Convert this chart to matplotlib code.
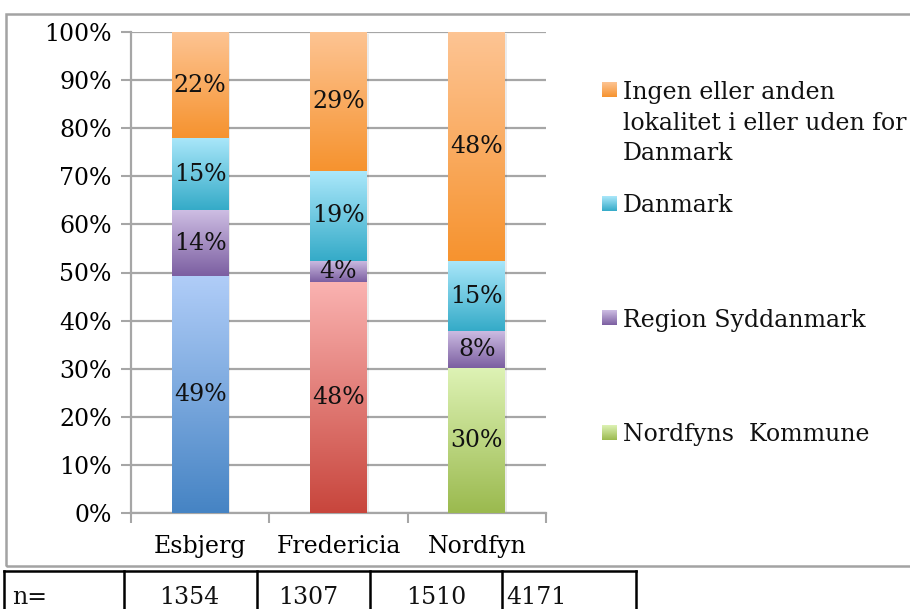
import numpy as np
import matplotlib
matplotlib.use("Agg")
import matplotlib.pyplot as plt
from matplotlib.patches import Rectangle
from matplotlib.colors import to_rgb
from matplotlib.lines import Line2D

# ---- data ----
categories = ["Esbjerg", "Fredericia", "Nordfyn"]
series_names = ["Nordfyns  Kommune", "Region Syddanmark", "Danmark",
                "Ingen eller anden\nlokalitet i eller uden for\nDanmark"]
local_vals = [49.3, 48.0, 30.1]       # own municipality (bottom segment)
region_vals = [13.6, 4.4, 7.7]
danmark_vals = [15.0, 18.7, 14.6]
other_vals = [22.1, 28.9, 47.6]
yticks = [0, 10, 20, 30, 40, 50, 60, 70, 80, 90, 100]
table_cells = ["n=", "1354", "1307", "1510", "4171"]

# gradient colours (top, bottom)
local_grads = [("#b0cdf8", "#4684c4"), ("#fab2b0", "#c8463d"), ("#ddf2b4", "#9bba4f")]
region_grad = ("#cdbde3", "#7c5fa1")
danmark_grad = ("#aae7fa", "#35abc8")
other_grad = ("#fdc493", "#f6932f")

plt.rcParams['font.family'] = ['DejaVu Serif']
FS = 17

fig = plt.figure(figsize=(9.10, 6.09), dpi=100)
W, H = 910, 609

def fx(px):
    return px / W

def fy(py):
    return 1 - py / H

def grad_img(top, bottom):
    t = np.linspace(0, 1, 64)[:, None, None]
    c0 = np.array(to_rgb(bottom))[None, None, :]
    c1 = np.array(to_rgb(top))[None, None, :]
    img = c0 * (1 - t) + c1 * t
    return np.repeat(img, 2, axis=1)

# outer chart frame
fig.add_artist(Rectangle((fx(6), fy(566)), 1.2, (566 - 14) / H, transform=fig.transFigure,
                         fill=False, edgecolor="#a3a3a3", linewidth=1.8))

ax = fig.add_axes([fx(131), fy(513), fx(546) - fx(131), fy(32) - fy(513)])
ax.set_xlim(-0.5, 2.5)
ax.set_ylim(0, 100)

x = np.arange(len(categories))
width = 0.41

def grad_fill(patch, top, bottom):
    b = patch.get_bbox()
    im = ax.imshow(grad_img(top, bottom), extent=(b.x0, b.x1, b.y0, b.y1), origin="lower",
                   aspect="auto", zorder=3, interpolation="bilinear")
    im.set_clip_path(patch)

bottoms = np.zeros(3)
stack = [
    (local_vals, local_grads),
    (region_vals, [region_grad] * 3),
    (danmark_vals, [danmark_grad] * 3),
    (other_vals, [other_grad] * 3),
]
for vals, grads in stack:
    vals = np.array(vals)
    bars = ax.bar(x, vals, width, bottom=bottoms, color="none", edgecolor="none", zorder=2)
    for bar, g, v, b0, xi in zip(bars, grads, vals, bottoms, x):
        bb = bar.get_bbox()
        ax.add_patch(Rectangle((bb.x0 + 0.012, bb.y0 - 0.4), bb.width, bb.height,
                               facecolor="#000000", alpha=0.08, edgecolor="none", zorder=1.5))
        grad_fill(bar, *g)
        ax.text(xi, b0 + v / 2, f"{round(v):d}%", ha="center", va="center",
                fontsize=FS, color="#111111", zorder=5)
    bottoms = bottoms + vals

# grid / axes styling
ax.set_yticks(yticks)
ax.set_yticklabels([f"{t}%" for t in yticks], fontsize=FS)
ax.yaxis.grid(True, color="#a6a6a6", linewidth=1.6, zorder=0)
ax.set_axisbelow(True)
ax.set_xticks(x)
ax.set_xticklabels(categories, fontsize=FS)
ax.set_xticks([-0.5, 0.5, 1.5, 2.5], minor=True)
ax.tick_params(axis="x", which="major", length=0, pad=16)
ax.tick_params(axis="x", which="minor", length=7, width=1.5, color="#a6a6a6", direction="out")
ax.tick_params(axis="y", length=7, width=1.5, color="#a6a6a6", pad=7)
for s in ["top", "right"]:
    ax.spines[s].set_visible(False)
for s in ["left", "bottom"]:
    ax.spines[s].set_color("#a6a6a6")
    ax.spines[s].set_linewidth(1.6)
ax.set_facecolor("none")

# legend (manual, right side)
leg_grads = [other_grad, danmark_grad, region_grad, local_grads[2]]
leg_names = [series_names[3], series_names[2], series_names[1], series_names[0]]
leg_y = [92, 206, 320, 435]
for name, g, yy in zip(leg_names, leg_grads, leg_y):
    sq = fig.add_axes([fx(602), fy(yy + 5), 15 / W, 15 / H])
    sq.imshow(grad_img(*g), origin="lower", aspect="auto", interpolation="bilinear")
    sq.axis("off")
    for i, line in enumerate(name.split("\n")):
        fig.text(fx(623), fy(yy + i * 31), line, ha="left", va="center", fontsize=FS,
                 color="#111111")

# table below
col_x = [4, 124, 257, 370, 502, 636]
for cx in col_x:
    fig.add_artist(Line2D([fx(cx), fx(cx)], [fy(571), fy(615)], transform=fig.transFigure,
                          color="black", linewidth=1.8))
fig.add_artist(Line2D([fx(4), fx(636)], [fy(571), fy(571)], transform=fig.transFigure,
                      color="black", linewidth=1.8))
text_x = [12, 189, 308, 436, 506]
aligns = ["left", "center", "center", "center", "left"]
for t, tx, a in zip(table_cells, text_x, aligns):
    fig.text(fx(tx), fy(597), t, ha=a, va="center", fontsize=FS, color="#111111")

fig.savefig("out.png", dpi=100)
